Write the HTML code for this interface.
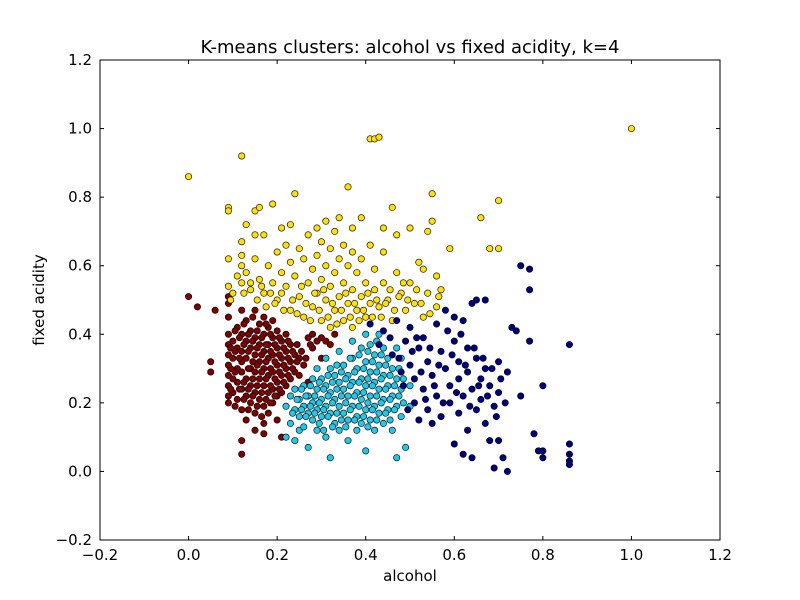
<!DOCTYPE html>
<html><head><meta charset="utf-8">
<style>
html,body{margin:0;padding:0;background:#fff;}
svg{display:block;font-family:"DejaVu Sans","Liberation Sans",sans-serif;}
</style></head>
<body>
<svg id="chart" width="800" height="600" viewBox="0 0 800 600">
<rect width="800" height="600" fill="#fff"/>
<g id="points"></g>
<rect x="100" y="60" width="620" height="480" fill="none" stroke="#000" stroke-width="1"/>
<g id="axes"></g>
<text x="410" y="53" text-anchor="middle" font-size="18">K-means clusters: alcohol vs fixed acidity, k=4</text>
<text x="410" y="581" text-anchor="middle" font-size="15">alcohol</text>
<text x="44" y="300" text-anchor="middle" font-size="15" transform="rotate(-90 44 300)">fixed acidity</text>
</svg>
<script>
const xTicks=[-0.2,0,0.2,0.4,0.6,0.8,1.0,1.2];
const yTicks=[-0.2,0,0.2,0.4,0.6,0.8,1.0,1.2];
const xTickLabels=["\u22120.2","0.0","0.2","0.4","0.6","0.8","1.0","1.2"];
const yTickLabels=["\u22120.2","0.0","0.2","0.4","0.6","0.8","1.0","1.2"];
const clusterRed=[[0,0.51],[0.02,0.48],[0.05,0.32],[0.05,0.29],[0.06,0.47],[0.09,0.51],[0.09,0.49],[0.09,0.45],[0.09,0.40],[0.09,0.37],[0.09,0.34],[0.09,0.31],[0.09,0.28],[0.09,0.25],[0.09,0.22],[0.09,0.20],[0.10,0.38],[0.10,0.33],[0.10,0.27],[0.10,0.23],[0.11,0.42],[0.11,0.36],[0.11,0.30],[0.11,0.26],[0.11,0.21],[0.12,0.47],[0.12,0.40],[0.12,0.35],[0.12,0.32],[0.12,0.29],[0.12,0.24],[0.12,0.18],[0.12,0.09],[0.12,0.05],[0.13,0.44],[0.13,0.38],[0.13,0.33],[0.13,0.27],[0.13,0.22],[0.13,0.15],[0.14,0.41],[0.14,0.36],[0.14,0.30],[0.14,0.25],[0.14,0.20],[0.15,0.47],[0.15,0.39],[0.15,0.34],[0.15,0.29],[0.15,0.23],[0.15,0.17],[0.15,0.12],[0.16,0.43],[0.16,0.37],[0.16,0.32],[0.16,0.27],[0.16,0.21],[0.17,0.45],[0.17,0.40],[0.17,0.35],[0.17,0.30],[0.17,0.25],[0.17,0.19],[0.17,0.14],[0.17,0.11],[0.18,0.42],[0.18,0.37],[0.18,0.33],[0.18,0.28],[0.18,0.23],[0.18,0.17],[0.19,0.44],[0.19,0.39],[0.19,0.34],[0.19,0.29],[0.19,0.24],[0.19,0.20],[0.20,0.41],[0.20,0.36],[0.20,0.31],[0.20,0.26],[0.20,0.22],[0.20,0.15],[0.21,0.38],[0.21,0.33],[0.21,0.28],[0.21,0.23],[0.21,0.10],[0.22,0.40],[0.22,0.35],[0.22,0.30],[0.22,0.25],[0.23,0.37],[0.23,0.32],[0.23,0.27],[0.24,0.34],[0.24,0.29],[0.25,0.33],[0.25,0.28],[0.26,0.31],[0.27,0.39],[0.27,0.26],[0.28,0.40],[0.28,0.36],[0.29,0.38],[0.30,0.33],[0.31,0.38],[0.32,0.37],
[0.095,0.36],[0.095,0.30],[0.095,0.24],[0.105,0.41],[0.105,0.35],[0.105,0.29],[0.105,0.19],[0.115,0.39],[0.115,0.33],[0.115,0.24],[0.125,0.43],[0.125,0.37],[0.125,0.26],[0.125,0.21],[0.135,0.40],[0.135,0.35],[0.135,0.30],[0.135,0.24],[0.135,0.18],[0.145,0.45],[0.145,0.38],[0.145,0.32],[0.145,0.27],[0.145,0.22],[0.155,0.41],[0.155,0.36],[0.155,0.31],[0.155,0.25],[0.155,0.19],[0.165,0.39],[0.165,0.34],[0.165,0.29],[0.165,0.23],[0.165,0.16],[0.175,0.43],[0.175,0.37],[0.175,0.32],[0.175,0.27],[0.175,0.21],[0.185,0.40],[0.185,0.35],[0.185,0.30],[0.185,0.25],[0.185,0.20],[0.195,0.37],[0.195,0.32],[0.195,0.27],[0.195,0.22],[0.205,0.39],[0.205,0.34],[0.205,0.29],[0.205,0.24],[0.215,0.36],[0.215,0.31],[0.215,0.26],[0.225,0.38],[0.225,0.33],[0.225,0.28],[0.235,0.35],[0.235,0.30],[0.245,0.37],[0.245,0.32],[0.255,0.35],[0.265,0.33],[0.275,0.37],[0.30,0.39],[0.33,0.40]];
const clusterCyan=[[0.22,0.19],[0.22,0.10],[0.23,0.22],[0.23,0.14],[0.24,0.24],[0.24,0.18],[0.24,0.09],[0.25,0.21],[0.25,0.16],[0.25,0.12],[0.26,0.25],[0.26,0.19],[0.26,0.13],[0.27,0.22],[0.27,0.17],[0.27,0.07],[0.28,0.27],[0.28,0.20],[0.28,0.15],[0.29,0.30],[0.29,0.24],[0.29,0.18],[0.29,0.12],[0.30,0.27],[0.30,0.21],[0.30,0.16],[0.31,0.33],[0.31,0.25],[0.31,0.19],[0.31,0.10],[0.32,0.30],[0.32,0.23],[0.32,0.17],[0.32,0.04],[0.33,0.28],[0.33,0.21],[0.33,0.14],[0.34,0.35],[0.34,0.26],[0.34,0.19],[0.34,0.12],[0.35,0.31],[0.35,0.24],[0.35,0.17],[0.36,0.28],[0.36,0.22],[0.36,0.15],[0.36,0.09],[0.37,0.38],[0.37,0.33],[0.37,0.26],[0.37,0.19],[0.38,0.30],[0.38,0.23],[0.38,0.16],[0.38,0.12],[0.39,0.36],[0.39,0.27],[0.39,0.21],[0.39,0.14],[0.40,0.40],[0.40,0.32],[0.40,0.25],[0.40,0.18],[0.40,0.06],[0.41,0.37],[0.41,0.29],[0.41,0.22],[0.41,0.15],[0.42,0.34],[0.42,0.26],[0.42,0.19],[0.42,0.12],[0.43,0.40],[0.43,0.31],[0.43,0.24],[0.43,0.17],[0.44,0.36],[0.44,0.28],[0.44,0.21],[0.44,0.14],[0.45,0.33],[0.45,0.25],[0.45,0.18],[0.46,0.30],[0.46,0.22],[0.46,0.12],[0.47,0.36],[0.47,0.27],[0.47,0.19],[0.47,0.04],[0.48,0.33],[0.48,0.24],[0.48,0.16],[0.49,0.07],[0.50,0.25],[0.50,0.19],
[0.235,0.17],[0.245,0.21],[0.255,0.24],[0.255,0.18],[0.265,0.22],[0.265,0.16],[0.275,0.25],[0.275,0.19],[0.285,0.22],[0.285,0.17],[0.295,0.26],[0.295,0.20],[0.295,0.14],[0.305,0.24],[0.305,0.18],[0.305,0.12],[0.315,0.28],[0.315,0.22],[0.315,0.16],[0.325,0.26],[0.325,0.20],[0.325,0.13],[0.335,0.31],[0.335,0.24],[0.335,0.17],[0.345,0.29],[0.345,0.22],[0.345,0.15],[0.355,0.27],[0.355,0.20],[0.355,0.13],[0.365,0.33],[0.365,0.25],[0.365,0.18],[0.375,0.29],[0.375,0.22],[0.375,0.15],[0.385,0.34],[0.385,0.26],[0.385,0.19],[0.395,0.30],[0.395,0.23],[0.395,0.16],[0.405,0.35],[0.405,0.27],[0.405,0.20],[0.405,0.13],[0.415,0.32],[0.415,0.25],[0.415,0.18],[0.425,0.38],[0.425,0.29],[0.425,0.22],[0.425,0.15],[0.435,0.34],[0.435,0.27],[0.435,0.20],[0.445,0.31],[0.445,0.24],[0.445,0.17],[0.455,0.28],[0.455,0.21],[0.455,0.15],[0.465,0.25],[0.465,0.18],[0.475,0.30],[0.475,0.22],[0.485,0.27],[0.485,0.20]];
const clusterYellow=[[0,0.86],[0.09,0.77],[0.09,0.76],[0.09,0.62],[0.09,0.54],[0.10,0.52],[0.12,0.92],[0.12,0.67],[0.12,0.63],[0.12,0.60],[0.12,0.55],[0.13,0.72],[0.13,0.58],[0.14,0.53],[0.15,0.76],[0.15,0.69],[0.15,0.62],[0.16,0.77],[0.16,0.56],[0.17,0.69],[0.17,0.52],[0.18,0.60],[0.19,0.78],[0.19,0.55],[0.20,0.64],[0.20,0.50],[0.21,0.71],[0.21,0.58],[0.22,0.66],[0.22,0.54],[0.23,0.72],[0.23,0.61],[0.23,0.47],[0.24,0.81],[0.24,0.57],[0.25,0.65],[0.25,0.51],[0.26,0.62],[0.26,0.45],[0.27,0.69],[0.27,0.55],[0.28,0.59],[0.28,0.48],[0.29,0.71],[0.29,0.63],[0.29,0.52],[0.30,0.67],[0.30,0.56],[0.30,0.44],[0.31,0.73],[0.31,0.60],[0.31,0.50],[0.32,0.65],[0.32,0.54],[0.32,0.42],[0.33,0.70],[0.33,0.58],[0.33,0.47],[0.34,0.74],[0.34,0.62],[0.34,0.51],[0.35,0.66],[0.35,0.55],[0.35,0.44],[0.36,0.83],[0.36,0.60],[0.36,0.49],[0.37,0.71],[0.37,0.64],[0.37,0.53],[0.37,0.42],[0.38,0.58],[0.38,0.47],[0.39,0.74],[0.39,0.62],[0.39,0.51],[0.40,0.55],[0.40,0.45],[0.41,0.97],[0.41,0.66],[0.41,0.49],[0.42,0.97],[0.42,0.59],[0.42,0.53],[0.43,0.975],[0.43,0.48],[0.44,0.71],[0.44,0.64],[0.44,0.55],[0.45,0.50],[0.46,0.77],[0.46,0.44],[0.47,0.69],[0.47,0.58],[0.48,0.52],[0.49,0.47],[0.50,0.71],[0.50,0.55],[0.51,0.49],[0.52,0.61],[0.53,0.59],[0.53,0.45],[0.54,0.70],[0.54,0.52],[0.55,0.81],[0.55,0.73],[0.56,0.57],[0.56,0.48],[0.57,0.53],[0.59,0.65],[0.66,0.74],[0.68,0.65],[0.70,0.79],[0.70,0.65],[1.0,1.0],
[0.095,0.50],[0.11,0.57],[0.125,0.52],[0.14,0.55],[0.155,0.50],[0.165,0.54],[0.175,0.48],[0.185,0.52],[0.195,0.49],[0.21,0.52],[0.215,0.47],[0.235,0.50],[0.245,0.46],[0.255,0.54],[0.265,0.49],[0.275,0.44],[0.285,0.52],[0.295,0.47],[0.305,0.53],[0.315,0.45],[0.325,0.49],[0.335,0.43],[0.345,0.47],[0.355,0.52],[0.365,0.45],[0.375,0.49],[0.385,0.44],[0.395,0.47],[0.405,0.52],[0.415,0.45],[0.425,0.50],[0.435,0.45],[0.445,0.49],[0.455,0.53],[0.465,0.47],[0.475,0.51],[0.485,0.55],[0.495,0.50],[0.515,0.53],[0.525,0.49],[0.545,0.46],[0.565,0.51]];
const clusterBlue=[[0.41,0.43],[0.43,0.37],[0.44,0.41],[0.46,0.34],[0.47,0.44],[0.48,0.29],[0.49,0.38],[0.50,0.42],[0.50,0.31],[0.51,0.27],[0.51,0.20],[0.52,0.36],[0.52,0.15],[0.53,0.39],[0.53,0.24],[0.54,0.32],[0.54,0.18],[0.55,0.28],[0.55,0.14],[0.56,0.43],[0.56,0.22],[0.57,0.35],[0.57,0.16],[0.58,0.30],[0.58,0.47],[0.59,0.25],[0.59,0.20],[0.60,0.38],[0.60,0.45],[0.60,0.08],[0.61,0.32],[0.61,0.27],[0.61,0.17],[0.62,0.44],[0.62,0.22],[0.62,0.05],[0.63,0.36],[0.63,0.29],[0.63,0.12],[0.64,0.49],[0.64,0.24],[0.64,0.04],[0.65,0.33],[0.65,0.18],[0.65,0.50],[0.66,0.27],[0.66,0.21],[0.67,0.30],[0.67,0.14],[0.67,0.50],[0.68,0.25],[0.68,0.09],[0.69,0.19],[0.69,0.01],[0.70,0.32],[0.70,0.23],[0.70,0.09],[0.71,0.04],[0.72,0.29],[0.72,0.00],[0.73,0.42],[0.74,0.41],[0.75,0.22],[0.75,0.60],[0.77,0.59],[0.77,0.53],[0.77,0.38],[0.78,0.11],[0.79,0.06],[0.80,0.25],[0.80,0.06],[0.80,0.04],[0.86,0.37],[0.86,0.08],[0.86,0.05],[0.86,0.03],[0.86,0.02],
[0.455,0.39],[0.475,0.33],[0.485,0.25],[0.495,0.18],[0.505,0.35],[0.515,0.39],[0.525,0.29],[0.535,0.21],[0.545,0.36],[0.555,0.25],[0.565,0.31],[0.575,0.20],[0.585,0.41],[0.595,0.34],[0.605,0.23],[0.615,0.40],[0.625,0.31],[0.635,0.19],[0.645,0.36],[0.655,0.25],[0.665,0.33],[0.675,0.22],[0.685,0.30],[0.695,0.16],[0.705,0.27],[0.715,0.20]];
const clusterNames=["cluster-red","cluster-cyan","cluster-yellow","cluster-blue"];
const clusterColors=["#800000","#1ec8e8","#ffe000","#000080"];

const X0=100,X1=720,Y0=540,Y1=60,XMIN=-0.2,XMAX=1.2,YMIN=-0.2,YMAX=1.2;
function sx(v){return X0+(v-XMIN)/(XMAX-XMIN)*(X1-X0);}
function sy(v){return Y0-(v-YMIN)/(YMAX-YMIN)*(Y0-Y1);}
const NS="http://www.w3.org/2000/svg";
const axes=document.getElementById('axes');
const pts=document.getElementById('points');
function mk(tag,attrs,parent){const e=document.createElementNS(NS,tag);for(const k in attrs)e.setAttribute(k,attrs[k]);parent.appendChild(e);return e;}

xTicks.forEach((t,i)=>{
  const x=sx(t);
  const a=mk('line',{x1:x,y1:Y0,x2:x,y2:Y0-4,stroke:'#000'},axes);
  
  
  const b=mk('line',{x1:x,y1:Y1,x2:x,y2:Y1+4,stroke:'#000'},axes);
  
  
  const l=mk('text',{x:x,y:Y0+20,'text-anchor':'middle','font-size':15},axes);
  l.textContent=xTickLabels[i];
  
  
});
yTicks.forEach((t,i)=>{
  const y=sy(t);
  const a=mk('line',{x1:X0,y1:y,x2:X0+4,y2:y,stroke:'#000'},axes);
  
  
  const b=mk('line',{x1:X1,y1:y,x2:X1-4,y2:y,stroke:'#000'},axes);
  
  
  const l=mk('text',{x:X0-8,y:y+5,'text-anchor':'end','font-size':15},axes);
  l.textContent=yTickLabels[i];
  
  
});
[clusterRed,clusterCyan,clusterYellow,clusterBlue].forEach((arr,ci)=>{
  arr.forEach(p=>{
    const c=mk('circle',{cx:sx(p[0]),cy:sy(p[1]),r:3.2,fill:clusterColors[ci],stroke:'#000','stroke-width':0.6},pts);
    
    
  });
});
</script>
</body></html>
